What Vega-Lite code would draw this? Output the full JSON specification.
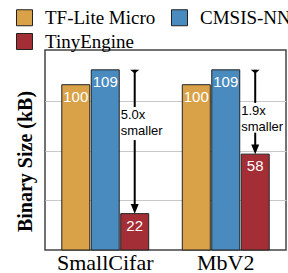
{
  "$schema": "https://vega.github.io/schema/vega-lite/v6.json",
  "width": 241,
  "height": 200,
  "autosize": {"type": "none"},
  "padding": {"left": 45, "top": 50, "right": 2, "bottom": 23},
  "background": "white",
  "config": {"view": {"stroke": "#444", "strokeWidth": 1.5}, "font": "Liberation Sans"},
  "datasets": {
    "bars": [
      {"model": "SmallCifar", "engine": "TF-Lite Micro", "size": 100},
      {"model": "SmallCifar", "engine": "CMSIS-NN", "size": 109},
      {"model": "SmallCifar", "engine": "TinyEngine", "size": 22},
      {"model": "MbV2", "engine": "TF-Lite Micro", "size": 100},
      {"model": "MbV2", "engine": "CMSIS-NN", "size": 109},
      {"model": "MbV2", "engine": "TinyEngine", "size": 58}
    ],
    "ann": [
      {"model": "SmallCifar", "engine": "TinyEngine", "top": 109, "hi": 86.5, "lo": 66.5, "end": 25, "bottom": 22, "tx": 79, "label": "5.0x\nsmaller"},
      {"model": "MbV2", "engine": "TinyEngine", "top": 109, "hi": 89, "lo": 71, "end": 61, "bottom": 58, "tx": 81.4, "label": "1.9x\nsmaller"}
    ]
  },
  "encoding": {
    "x": {
      "field": "model", "type": "nominal", "sort": ["SmallCifar", "MbV2"],
      "scale": {"paddingInner": 0, "paddingOuter": 0},
      "axis": {"title": null, "labelAngle": 0, "ticks": false, "domain": false, "labelFont": "Liberation Serif", "labelFontSize": 22, "labelColor": "black", "labelPadding": 2}
    },
    "xOffset": {
      "field": "engine", "type": "nominal", "sort": ["TF-Lite Micro", "CMSIS-NN", "TinyEngine"],
      "scale": {"domain": ["TF-Lite Micro", "CMSIS-NN", "TinyEngine"], "paddingInner": 0.05, "paddingOuter": 0.57}
    }
  },
  "layer": [
    {
      "data": {"name": "bars"},
      "mark": {"type": "bar", "stroke": "#222", "strokeWidth": 1},
      "encoding": {
        "y": {
          "field": "size", "type": "quantitative", "scale": {"domain": [0, 121], "nice": false},
          "axis": {"values": [30, 60, 90], "labels": false, "ticks": false, "domain": false, "gridColor": "#c8c8c8", "gridWidth": 1,
            "title": "Binary Size (kB)", "titleFont": "Liberation Serif", "titleFontSize": 20, "titleFontWeight": "bold", "titleColor": "black",
            "titlePadding": 10, "titleY": 111}
        },
        "color": {
          "field": "engine", "type": "nominal",
          "scale": {"domain": ["TF-Lite Micro", "TinyEngine", "CMSIS-NN"], "range": ["#D9A248", "#A32E36", "#4A8BBF"]},
          "legend": {"orient": "none", "legendX": -30, "legendY": -42, "columns": 2, "title": null, "symbolType": "square", "symbolSize": 256,
            "symbolStrokeColor": "#222", "symbolStrokeWidth": 1, "labelFont": "Liberation Serif", "labelFontSize": 19, "labelColor": "black",
            "labelOffset": 11, "columnPadding": 13, "rowPadding": 3, "padding": 0, "labelLimit": 300, "symbolOffset": 0}
        }
      }
    },
    {
      "data": {"name": "bars"},
      "mark": {"type": "text", "color": "white", "fontSize": 15, "font": "Liberation Sans", "baseline": "alphabetic", "align": "center", "dy": 17},
      "encoding": {
        "y": {"field": "size", "type": "quantitative", "scale": {"domain": [0, 121], "nice": false}},
        "text": {"field": "size", "type": "quantitative"}
      }
    },
    {
      "data": {"name": "ann"},
      "mark": {"type": "rule", "color": "black", "strokeWidth": 2},
      "encoding": {
        "y": {"field": "top", "type": "quantitative", "scale": {"domain": [0, 121], "nice": false}},
        "y2": {"field": "hi"}
      }
    },
    {
      "data": {"name": "ann"},
      "mark": {"type": "rule", "color": "black", "strokeWidth": 2},
      "encoding": {
        "y": {"field": "lo", "type": "quantitative", "scale": {"domain": [0, 121], "nice": false}},
        "y2": {"field": "end"}
      }
    },
    {
      "data": {"name": "ann"},
      "mark": {"type": "point", "filled": true, "color": "black", "opacity": 1, "strokeWidth": 0, "size": 81, "shape": "M-1,0L1,0L0,0.8Z"},
      "encoding": {
        "y": {"field": "top", "type": "quantitative", "scale": {"domain": [0, 121], "nice": false}}
      }
    },
    {
      "data": {"name": "ann"},
      "mark": {"type": "point", "filled": true, "color": "black", "opacity": 1, "strokeWidth": 0, "size": 64, "shape": "M-1,-2.4L1,-2.4L0,0Z"},
      "encoding": {
        "y": {"field": "bottom", "type": "quantitative", "scale": {"domain": [0, 121], "nice": false}}
      }
    },
    {
      "data": {"name": "ann"},
      "mark": {"type": "text", "color": "black", "fontSize": 13, "font": "Liberation Sans", "baseline": "alphabetic", "align": "left", "dx": -14, "lineBreak": "\n", "lineHeight": 16},
      "encoding": {
        "y": {"field": "tx", "type": "quantitative", "scale": {"domain": [0, 121], "nice": false}},
        "text": {"field": "label", "type": "nominal"}
      }
    }
  ]
}
